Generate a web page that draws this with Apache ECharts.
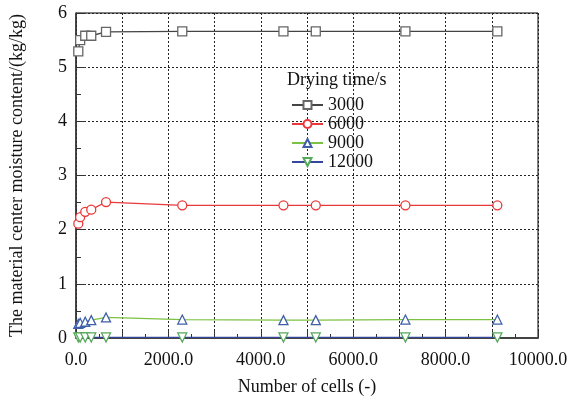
<!DOCTYPE html>
<html><head><meta charset="utf-8">
<script src="https://cdn.jsdelivr.net/npm/echarts@6/dist/echarts.min.js"></script>
<style>html,body{margin:0;padding:0;background:#fff}#c{width:576px;height:408px}</style>
</head><body><div id="c"></div>
<script>
const cells = [50, 90, 200, 330, 650, 2300, 4490, 5190, 7130, 9120];
const s3000 = [5.29, 5.50, 5.58, 5.58, 5.65, 5.66, 5.66, 5.66, 5.66, 5.66];
const s6000 = [2.11, 2.23, 2.33, 2.37, 2.51, 2.45, 2.45, 2.45, 2.45, 2.45];
const s9000 = [0.26, 0.28, 0.30, 0.33, 0.38, 0.34, 0.33, 0.33, 0.34, 0.34];
const s12000 = [0.01, 0.01, 0.01, 0.01, 0.01, 0.01, 0.01, 0.01, 0.01, 0.01];
const seriesNames = ['3000', '6000', '9000', '12000'];
const xTicks = [0, 2000, 4000, 6000, 8000, 10000];

const font = 'Liberation Serif, Times New Roman, serif';
const pair = a => cells.map((x, i) => [x, a[i]]);
const chart = echarts.init(document.getElementById('c'), null, {renderer: 'canvas'});
const mk = (name, data, lineColor, symColor, symbol, rot) => ({
  name, type: 'line', data: pair(data), symbol, symbolSize: 9, symbolRotate: rot || 0,
  lineStyle: {color: lineColor, width: 1.3},
  itemStyle: {color: '#fff', borderColor: symColor, borderWidth: 1.3},
  emphasis: {disabled: true}, z: 3
});
chart.setOption({
  animation: false,
  grid: {left: 75, right: 38, top: 13, bottom: 70, show: true, borderColor: '#000', borderWidth: 1},
  title: {text: 'Drying time/s', left: 282, top: 66, textStyle: {fontFamily: font, fontSize: 18, fontWeight: 'normal', color: '#111'}},
  legend: {
    orient: 'vertical', left: 286, top: 91, itemGap: 1, itemWidth: 31, itemHeight: 10,
    data: seriesNames,
    textStyle: {fontFamily: font, fontSize: 18, lineHeight: 18, color: '#111'}
  },
  xAxis: {
    type: 'value', min: 0, max: 10000, interval: 1000,
    name: 'Number of cells (-)', nameLocation: 'middle', nameGap: 40,
    nameTextStyle: {fontFamily: font, fontSize: 18, color: '#111'},
    axisLine: {lineStyle: {color: '#444', width: 2}},
    axisTick: {inside: true, length: 8, lineStyle: {color: '#333'}},
    minorTick: {show: true, splitNumber: 2, length: 4, lineStyle: {color: '#333'}},
    axisLabel: {fontFamily: font, fontSize: 18, color: '#111', margin: 13,
      formatter: v => xTicks.indexOf(v) >= 0 ? v.toFixed(1) : ''},
    splitLine: {show: true, lineStyle: {color: '#222', type: [2, 2], width: 1}}
  },
  yAxis: {
    type: 'value', min: 0, max: 6, interval: 1,
    name: 'The material center moisture content/(kg/kg)', nameLocation: 'middle', nameGap: 50,
    nameTextStyle: {fontFamily: font, fontSize: 18, color: '#111'},
    axisLine: {show: true, lineStyle: {color: '#333', width: 1.5}},
    axisTick: {inside: true, length: 10, lineStyle: {color: '#333'}},
    minorTick: {show: true, splitNumber: 2, length: 5, lineStyle: {color: '#333'}},
    axisLabel: {fontFamily: font, fontSize: 18, color: '#111', margin: 9},
    splitLine: {show: true, lineStyle: {color: '#222', type: [2, 2], width: 1}}
  },
  series: [
    mk('3000', s3000, '#444', '#666', 'rect'),
    mk('6000', s6000, '#e8393a', '#e8393a', 'circle'),
    mk('9000', s9000, '#7cc242', '#3f5fa8', 'triangle'),
    mk('12000', s12000, '#34479a', '#56a85a', 'triangle', 180)
  ]
});
</script></body></html>
